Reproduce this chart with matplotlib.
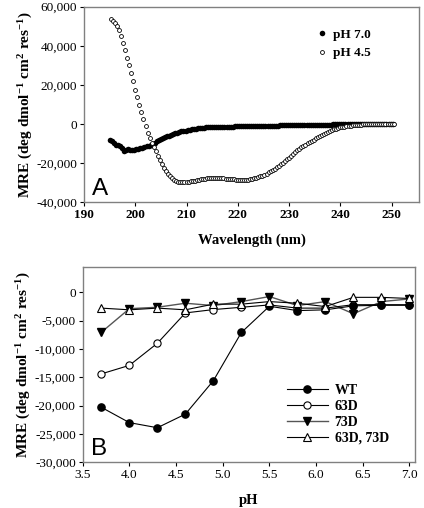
import numpy as np
import matplotlib
matplotlib.use("Agg")
import matplotlib.pyplot as plt
from matplotlib.ticker import FuncFormatter

# ---------------- Panel A data ----------------
wl_ph45_start, wl_step = 195.2, 0.4
wl_ph70_start = 195.0
mre_ph45 = [53800, 52600, 51500, 50300, 48000, 45000, 41500, 37800, 34000, 30300,
            26000, 22000, 17600, 13600, 9700, 6000, 2600, -1000, -4400, -7200,
            -9500, -11700, -14000, -16200, -18500, -20500, -22400, -24100, -25500, -26700,
            -27700, -28400, -29000, -29400, -29700, -29800, -29800, -29700, -29500, -29300,
            -29100, -28900, -28700, -28500, -28300, -28100, -27900, -27700, -27600, -27500,
            -27500, -27500, -27500, -27600, -27700, -27800, -27900, -28000, -28100, -28200,
            -28300, -28400, -28500, -28600, -28600, -28600, -28500, -28400, -28300, -28100,
            -27800, -27500, -27200, -26800, -26300, -25800, -25300, -24700, -24100, -23500,
            -22800, -22100, -21400, -20600, -19800, -18900, -18000, -17100, -16200, -15300,
            -14400, -13500, -12700, -11900, -11200, -10500, -9800, -9100, -8500, -7900,
            -7300, -6700, -6100, -5500, -5000, -4500, -4000, -3500, -3100, -2700,
            -2300, -2000, -1700, -1500, -1300, -1100, -1000, -900, -700, -600,
            -500, -400, -300, -200, -100, 0, 0, 100, 100, 100,
            100, 100, 100, 100, 100, 100, 100, 100, 100]
mre_ph70 = [-8200, -8700, -9500, -10500, -10700, -11000, -12300, -13800, -13400, -13000,
            -13200, -13300, -13200, -12900, -12500, -12200, -12000, -11700, -11400, -11000,
            -10500, -10000, -9500, -8900, -8300, -7700, -7200, -6700, -6300, -5900,
            -5500, -5100, -4700, -4400, -4100, -3800, -3500, -3300, -3100, -2900,
            -2700, -2500, -2300, -2100, -2000, -1900, -1800, -1700, -1700, -1600,
            -1600, -1500, -1500, -1500, -1400, -1400, -1400, -1300, -1300, -1300,
            -1300, -1200, -1200, -1200, -1200, -1100, -1100, -1100, -1100, -1000,
            -1000, -1000, -1000, -1000, -900, -900, -900, -900, -800, -800,
            -800, -800, -800, -700, -700, -700, -700, -700, -600, -600,
            -600, -600, -600, -500, -500, -500, -500, -500, -500, -400,
            -400, -400, -400, -400, -300, -300, -300, -300, -300, -200,
            -200, -200, -200, -100, -100, -100, -100, 0, 0, 0,
            0, 100, 100, 100, 100, 100, 200, 200, 200, 200,
            200, 200, 200, 200, 200, 200, 200, 200, 200]
wl_ph45 = np.round(wl_ph45_start + wl_step * np.arange(len(mre_ph45)), 1)
wl_ph70 = np.round(wl_ph70_start + wl_step * np.arange(len(mre_ph70)), 1)

# ---------------- Panel B data ----------------
ph = [3.7, 4.0, 4.3, 4.6, 4.9, 5.2, 5.5, 5.8, 6.1, 6.4, 6.7, 7.0]
wt = [-20300, -23000, -23900, -21500, -15600, -7100, -2470, -3240, -3100, -2400, -2300, -2300]
d63 = [-14400, -12900, -9000, -3650, -3060, -2650, -2240, -2800, -2800, -2200, -2200, -2200]
d73 = [-7060, -2900, -2650, -1940, -2350, -1650, -760, -2350, -1650, -3800, -1650, -1180]
d63_73 = [-2800, -3100, -2800, -3100, -2100, -2100, -1650, -1940, -2530, -900, -900, -1100]

serif = ["Liberation Serif", "DejaVu Serif"]
plt.rcParams["font.family"] = serif
plt.rcParams["mathtext.fontset"] = "custom"
plt.rcParams["mathtext.rm"] = "Liberation Serif"
plt.rcParams["mathtext.bf"] = "Liberation Serif:bold"
plt.rcParams["mathtext.it"] = "Liberation Serif:italic"

fig = plt.figure(figsize=(4.24, 5.08), dpi=100)
W, H = 424, 508

def fmt(v, pos):
    return "{:,}".format(int(round(v)))

spine_col = "#808080"
ylab = r"MRE (deg dmol$^{\mathbf{-1}}$ cm$^{\mathbf{2}}$ res$^{\mathbf{-1}}$)"

# ---- Panel A ----
axA = fig.add_axes([84 / W, 1 - 202.3 / H, (419.3 - 84) / W, (202.3 - 6.7) / H])
axA.plot(wl_ph70, mre_ph70, "o", color="black", ms=4.0, mew=0, label="pH 7.0", zorder=2)
axA.plot(wl_ph45, mre_ph45, "o", mfc="white", mec="black", ms=2.8, mew=0.6,
         label="pH 4.5", zorder=3)
axA.set_xlim(190, 255.4)
axA.set_ylim(-40000, 60000)
axA.set_yticks([-40000, -20000, 0, 20000, 40000, 60000])
axA.set_xticks([190, 200, 210, 220, 230, 240, 250])
axA.yaxis.set_major_formatter(FuncFormatter(fmt))
for lab in axA.get_xticklabels():
    lab.set_fontweight("bold")
axA.set_xlabel("Wavelength (nm)", fontsize=10.5, fontweight="bold", labelpad=9)
axA.set_ylabel(ylab, fontsize=11, fontweight="bold", labelpad=1)
axA.text(0.025, 0.01, "A", transform=axA.transAxes, fontsize=17.5,
         family=["Liberation Sans", "DejaVu Sans"], va="bottom", ha="left")
axA.legend(loc="upper right", bbox_to_anchor=(0.89, 0.95), frameon=False,
           prop={"weight": "bold", "size": 9.5, "family": serif},
           handletextpad=0.3, labelspacing=0.5, markerscale=1.0, handlelength=1.0)

# ---- Panel B ----
axB = fig.add_axes([82.7 / W, 1 - 462.3 / H, (415 - 82.7) / W, 195 / H])
lw = 0.8
axB.plot(ph, wt, "-o", color="black", lw=lw, ms=5.2, mfc="black", mec="black", label="WT", zorder=4)
axB.plot(ph, d63, "-o", color="black", lw=lw, ms=5.2, mfc="white", mec="black", mew=0.8,
         label="63D", zorder=3)
axB.plot(ph, d73, "-v", color="#555555", lw=1.0, ms=5.6, mfc="black", mec="black",
         label="73D", zorder=2)
axB.plot(ph, d63_73, "-^", color="black", lw=lw, ms=5.6, mfc="white", mec="black", mew=0.8,
         label="63D, 73D", zorder=5)
axB.set_xlim(3.5, 7.06)
axB.set_ylim(-30000, 4400)
axB.set_yticks(np.arange(-30000, 1, 5000))
axB.yaxis.set_major_formatter(FuncFormatter(fmt))
axB.set_xticks(np.arange(3.5, 7.01, 0.5))
axB.xaxis.set_major_formatter(FuncFormatter(lambda v, p: "{:.1f}".format(v)))
axB.set_xlabel("pH", fontsize=10.5, fontweight="bold", labelpad=9)
axB.set_ylabel(ylab, fontsize=11, fontweight="bold", labelpad=1)
axB.text(0.025, 0.01, "B", transform=axB.transAxes, fontsize=17.5,
         family=["Liberation Sans", "DejaVu Sans"], va="bottom", ha="left")
axB.legend(loc="lower right", bbox_to_anchor=(0.95, 0.04), frameon=False,
           prop={"weight": "bold", "size": 10, "family": serif},
           handlelength=2.9, handletextpad=0.5, labelspacing=0.22,
           borderpad=0.2)

for ax in (axA, axB):
    for s in ax.spines.values():
        s.set_color(spine_col)
        s.set_linewidth(1.0)
    ax.tick_params(direction="out", length=3, width=0.8, color="black",
                   labelsize=9.5, pad=2)

fig.savefig("out.png", dpi=100)
